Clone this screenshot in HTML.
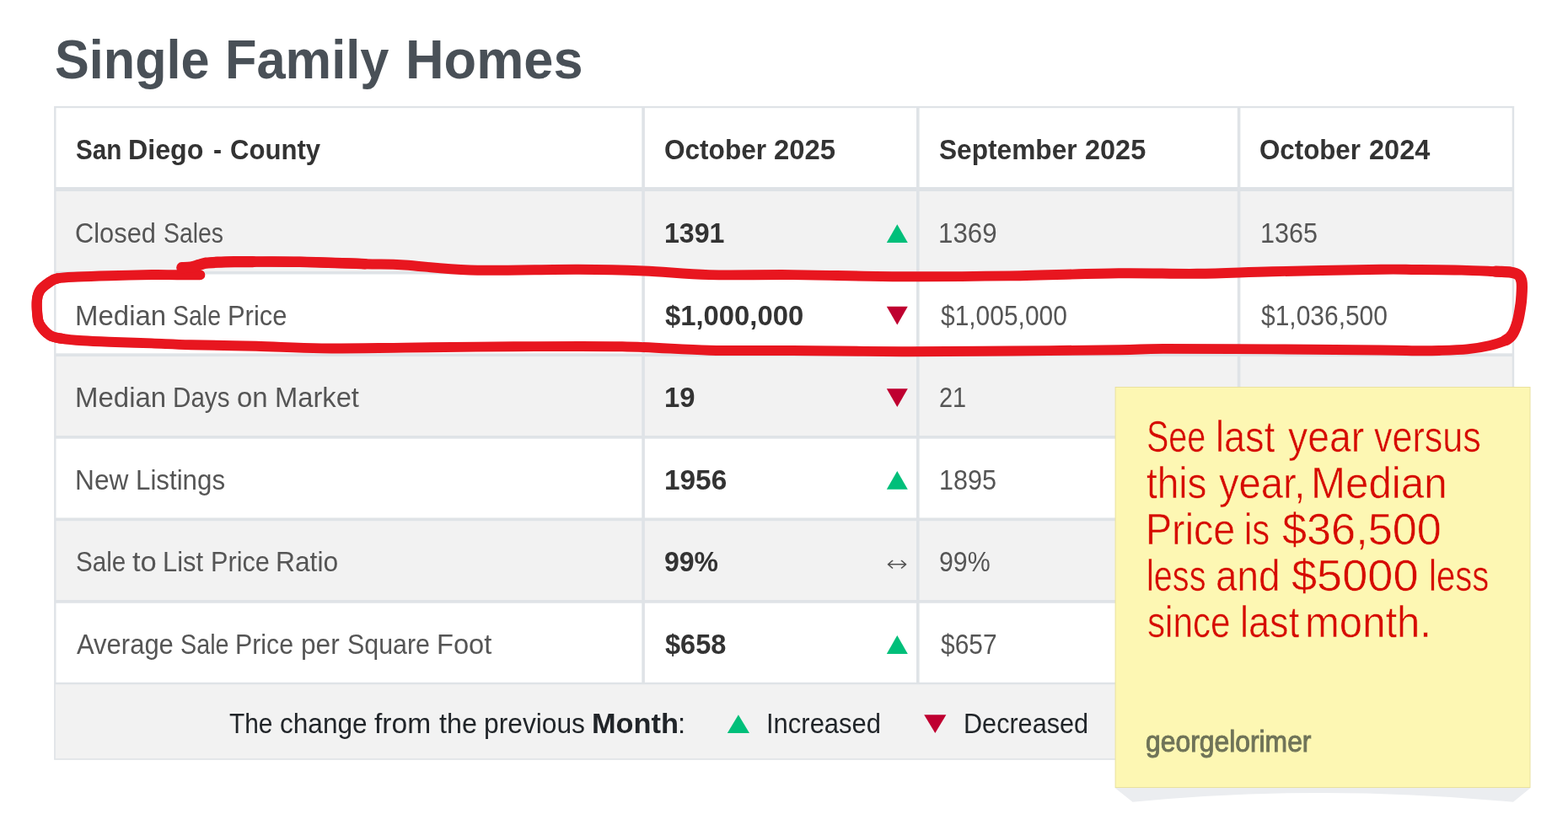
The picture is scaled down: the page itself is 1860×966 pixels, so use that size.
<!DOCTYPE html>
<html lang="en"><head><meta charset="utf-8"><title>Single Family Homes</title>
<style>
html,body{margin:0;padding:0;background:#fff}
body{width:1860px;height:966px;position:relative;overflow:hidden;font-family:"Liberation Sans",sans-serif}
.l{position:absolute;left:0;top:0;margin:0;padding:0}
.t{position:absolute;white-space:pre;transform-origin:0 50%;margin:0;padding:0;display:block}
.b{position:absolute}
svg{position:absolute;left:0;top:0}
</style></head><body>

<svg width="1860" height="966" viewBox="0 0 1860 966">
<rect x="64.1" y="126" width="1732.1" height="775.8" fill="#dfe3e7"/>
<rect x="66.5" y="128.2" width="1727.2" height="93.8" fill="#fff"/>
<rect x="66.5" y="222" width="1727.2" height="5" fill="#dee2e6"/>
<rect x="66.5" y="227.00" width="1727.2" height="95.00" fill="#f2f2f2"/>
<rect x="66.5" y="322.00" width="1727.2" height="3.5" fill="#dfe3e7"/>
<rect x="66.5" y="325.50" width="1727.2" height="94.06" fill="#fff"/>
<rect x="66.5" y="419.56" width="1727.2" height="3.5" fill="#dfe3e7"/>
<rect x="66.5" y="423.06" width="1727.2" height="94.06" fill="#f2f2f2"/>
<rect x="66.5" y="517.12" width="1727.2" height="3.5" fill="#dfe3e7"/>
<rect x="66.5" y="520.62" width="1727.2" height="94.06" fill="#fff"/>
<rect x="66.5" y="614.68" width="1727.2" height="3.5" fill="#dfe3e7"/>
<rect x="66.5" y="618.18" width="1727.2" height="94.06" fill="#f2f2f2"/>
<rect x="66.5" y="712.24" width="1727.2" height="3.5" fill="#dfe3e7"/>
<rect x="66.5" y="715.74" width="1727.2" height="94.06" fill="#fff"/>
<rect x="65.8" y="812.3" width="1728.8" height="87.9" fill="#f2f2f2"/>
<rect x="761.3" y="128" width="3.6" height="682.4" fill="#dfe3e7"/>
<rect x="1087" y="128" width="3.6" height="682.4" fill="#dfe3e7"/>
<rect x="1467.8" y="128" width="3.6" height="682.4" fill="#dfe3e7"/>
<polygon points="1051.8,288.1 1076.8,288.1 1064.3,266.3" fill="#00bf7a"/>
<polygon points="1051.8,363.7 1076.8,363.7 1064.3,385.6" fill="#bf0030"/>
<polygon points="1051.8,461.2 1076.8,461.2 1064.3,483.1" fill="#bf0030"/>
<polygon points="1051.8,580.8 1076.8,580.8 1064.3,559.0" fill="#00bf7a"/>
<polygon points="1051.8,775.9 1076.8,775.9 1064.3,754.1" fill="#00bf7a"/>
<polygon points="862.8,869.9 889,869.9 875.9,848.2" fill="#00bf7a"/>
<polygon points="1096.2,848.2 1122.4,848.2 1109.3,869.9" fill="#bf0030"/>
</svg>
<div class="l"><span class="t" style="left:65.04px;top:30px;font-size:64.5px;line-height:83px;color:#495057;font-weight:bold;transform:scaleX(0.9481)">Single</span> <span class="t" style="left:266.87px;top:30px;font-size:64.5px;line-height:83px;color:#495057;font-weight:bold;transform:scaleX(0.9511)">Family</span> <span class="t" style="left:480.75px;top:30px;font-size:64.5px;line-height:83px;color:#495057;font-weight:bold;transform:scaleX(0.9788)">Homes</span></div>
<div class="l"><span class="t" style="left:89.54px;top:157px;font-size:33px;line-height:42px;color:#333;font-weight:bold;transform:scaleX(0.8988)">San</span> <span class="t" style="left:152.49px;top:157px;font-size:33px;line-height:42px;color:#333;font-weight:bold;transform:scaleX(0.9743)">Diego</span> <span class="t" style="left:252.81px;top:157px;font-size:33px;line-height:42px;color:#333;font-weight:bold;transform:scaleX(0.9127)">-</span> <span class="t" style="left:272.78px;top:157px;font-size:33px;line-height:42px;color:#333;font-weight:bold;transform:scaleX(0.9417)">County</span></div>
<div class="l"><span class="t" style="left:787.81px;top:157px;font-size:33px;line-height:42px;color:#333;font-weight:bold;transform:scaleX(0.9566)">October</span> <span class="t" style="left:918.07px;top:157px;font-size:33px;line-height:42px;color:#333;font-weight:bold;transform:scaleX(0.9964)">2025</span></div>
<div class="l"><span class="t" style="left:1113.81px;top:157px;font-size:33px;line-height:42px;color:#333;font-weight:bold;transform:scaleX(0.9589)">September</span> <span class="t" style="left:1287.19px;top:157px;font-size:33px;line-height:42px;color:#333;font-weight:bold;transform:scaleX(0.9838)">2025</span></div>
<div class="l"><span class="t" style="left:1494.22px;top:157px;font-size:33px;line-height:42px;color:#333;font-weight:bold;transform:scaleX(0.9478)">October</span> <span class="t" style="left:1623.98px;top:157px;font-size:33px;line-height:42px;color:#333;font-weight:bold;transform:scaleX(0.9850)">2024</span></div>
<div class="l"><span class="t" style="left:89.06px;top:256px;font-size:33px;line-height:42px;color:#555;transform:scaleX(0.9338)">Closed</span> <span class="t" style="left:194.11px;top:256px;font-size:33px;line-height:42px;color:#555;transform:scaleX(0.8604)">Sales</span></div>
<div class="l"><span class="t" style="left:788.19px;top:256px;font-size:33px;line-height:42px;color:#333;font-weight:bold;transform:scaleX(0.9727)">1391</span></div>
<div class="l"><span class="t" style="left:1113.34px;top:256px;font-size:33px;line-height:42px;color:#555;transform:scaleX(0.9484)">1369</span></div>
<div class="l"><span class="t" style="left:1495.09px;top:256px;font-size:33px;line-height:42px;color:#555;transform:scaleX(0.9256)">1365</span></div>
<div class="l"><span class="t" style="left:88.67px;top:354px;font-size:33px;line-height:42px;color:#555;transform:scaleX(0.9995)">Median</span> <span class="t" style="left:205.36px;top:354px;font-size:33px;line-height:42px;color:#555;transform:scaleX(0.8637)">Sale</span> <span class="t" style="left:270.09px;top:354px;font-size:33px;line-height:42px;color:#555;transform:scaleX(0.9366)">Price</span></div>
<div class="l"><span class="t" style="left:788.80px;top:354px;font-size:33px;line-height:42px;color:#333;font-weight:bold;transform:scaleX(0.9938)">$1,000,000</span></div>
<div class="l"><span class="t" style="left:1115.50px;top:354px;font-size:33px;line-height:42px;color:#555;transform:scaleX(0.9073)">$1,005,000</span></div>
<div class="l"><span class="t" style="left:1496.10px;top:354px;font-size:33px;line-height:42px;color:#555;transform:scaleX(0.9079)">$1,036,500</span></div>
<div class="l"><span class="t" style="left:88.67px;top:451px;font-size:33px;line-height:42px;color:#555;transform:scaleX(0.9995)">Median</span> <span class="t" style="left:204.69px;top:451px;font-size:33px;line-height:42px;color:#555;transform:scaleX(0.8977)">Days</span> <span class="t" style="left:281.47px;top:451px;font-size:33px;line-height:42px;color:#555;transform:scaleX(0.9979)">on</span> <span class="t" style="left:326.20px;top:451px;font-size:33px;line-height:42px;color:#555;transform:scaleX(0.9910)">Market</span></div>
<div class="l"><span class="t" style="left:788.15px;top:451px;font-size:33px;line-height:42px;color:#333;font-weight:bold;transform:scaleX(0.9934)">19</span></div>
<div class="l"><span class="t" style="left:1113.95px;top:451px;font-size:33px;line-height:42px;color:#555;transform:scaleX(0.8752)">21</span></div>
<div class="l"><span class="t" style="left:88.82px;top:549px;font-size:33px;line-height:42px;color:#555;transform:scaleX(0.9602)">New</span> <span class="t" style="left:161.46px;top:549px;font-size:33px;line-height:42px;color:#555;transform:scaleX(0.9475)">Listings</span></div>
<div class="l"><span class="t" style="left:788.11px;top:549px;font-size:33px;line-height:42px;color:#333;font-weight:bold;transform:scaleX(1.0109)">1956</span></div>
<div class="l"><span class="t" style="left:1114.39px;top:549px;font-size:33px;line-height:42px;color:#555;transform:scaleX(0.9270)">1895</span></div>
<div class="l"><span class="t" style="left:89.68px;top:646px;font-size:33px;line-height:42px;color:#555;transform:scaleX(0.8967)">Sale</span> <span class="t" style="left:157.40px;top:646px;font-size:33px;line-height:42px;color:#555;transform:scaleX(1.0464)">to</span> <span class="t" style="left:193.08px;top:646px;font-size:33px;line-height:42px;color:#555;transform:scaleX(0.9368)">List</span> <span class="t" style="left:249.51px;top:646px;font-size:33px;line-height:42px;color:#555;transform:scaleX(0.9289)">Price</span> <span class="t" style="left:326.52px;top:646px;font-size:33px;line-height:42px;color:#555;transform:scaleX(0.9628)">Ratio</span></div>
<div class="l"><span class="t" style="left:787.80px;top:646px;font-size:33px;line-height:42px;color:#333;font-weight:bold;transform:scaleX(0.9682)">99%</span></div>
<div class="l"><span class="t" style="left:1050.91px;top:651px;font-size:27px;line-height:35px;color:#505050;font-family:'DejaVu Sans',sans-serif;-webkit-text-stroke:0.7px #f2f2f2;transform:scaleX(1.1753)">↔</span></div>
<div class="l"><span class="t" style="left:1113.88px;top:646px;font-size:33px;line-height:42px;color:#555;transform:scaleX(0.9194)">99%</span></div>
<div class="l"><span class="t" style="left:90.60px;top:744px;font-size:33px;line-height:42px;color:#555;transform:scaleX(0.9390)">Average</span> <span class="t" style="left:213.90px;top:744px;font-size:33px;line-height:42px;color:#555;transform:scaleX(0.8715)">Sale</span> <span class="t" style="left:279.23px;top:744px;font-size:33px;line-height:42px;color:#555;transform:scaleX(0.9191)">Price</span> <span class="t" style="left:357.02px;top:744px;font-size:33px;line-height:42px;color:#555;transform:scaleX(0.9588)">per</span> <span class="t" style="left:412.25px;top:744px;font-size:33px;line-height:42px;color:#555;transform:scaleX(0.9208)">Square</span> <span class="t" style="left:517.75px;top:744px;font-size:33px;line-height:42px;color:#555;transform:scaleX(0.9895)">Foot</span></div>
<div class="l"><span class="t" style="left:789.40px;top:744px;font-size:33px;line-height:42px;color:#333;font-weight:bold;transform:scaleX(0.9864)">$658</span></div>
<div class="l"><span class="t" style="left:1115.80px;top:744px;font-size:33px;line-height:42px;color:#555;transform:scaleX(0.9074)">$657</span></div>
<div class="l"><span class="t" style="left:272.03px;top:838px;font-size:33px;line-height:42px;color:#212529;transform:scaleX(0.9053)">The</span> <span class="t" style="left:331.61px;top:838px;font-size:33px;line-height:42px;color:#212529;transform:scaleX(0.9575)">change</span> <span class="t" style="left:444.00px;top:838px;font-size:33px;line-height:42px;color:#212529;transform:scaleX(1.0172)">from</span> <span class="t" style="left:520.70px;top:838px;font-size:33px;line-height:42px;color:#212529;transform:scaleX(0.9790)">the</span> <span class="t" style="left:573.82px;top:838px;font-size:33px;line-height:42px;color:#212529;transform:scaleX(0.9619)">previous</span> <span class="t" style="left:701.55px;top:838px;font-size:33px;line-height:42px;color:#212529;font-weight:bold;transform:scaleX(1.0410)">Month</span><span class="t" style="left:803.83px;top:838px;font-size:33px;line-height:42px;color:#212529;transform:scaleX(0.9974)">:</span></div>
<div class="l"><span class="t" style="left:908.58px;top:838px;font-size:33px;line-height:42px;color:#212529;transform:scaleX(0.9388)">Increased</span></div>
<div class="l"><span class="t" style="left:1142.61px;top:838px;font-size:33px;line-height:42px;color:#212529;transform:scaleX(0.9275)">Decreased</span></div>
<svg width="1860" height="966" viewBox="0 0 1860 966"><g fill="none" stroke="#e8161f" stroke-linecap="round" stroke-linejoin="round"><path d="M215.8 317.6C217.6 317.5 223.1 317.5 226.5 317.0C229.9 316.5 233.0 315.3 236.0 314.5C239.0 313.7 240.8 312.7 244.5 312.1C248.2 311.6 252.4 311.4 258.0 311.2C263.6 310.9 271.0 310.7 278.0 310.6C285.0 310.5 287.1 310.6 300.0 310.6C312.9 310.6 333.3 310.4 355.5 310.8C377.7 311.2 412.2 312.6 433.0 313.2C453.8 313.8 459.3 313.3 480.0 314.5C500.7 315.7 523.0 319.6 557.4 320.5C591.8 321.4 652.1 319.5 686.5 319.7C720.9 319.9 738.1 320.4 763.9 321.5C789.7 322.6 811.9 325.3 841.3 326.1C870.6 326.9 902.0 325.8 940.0 326.1C978.0 326.5 1026.0 328.0 1069.0 328.2C1112.0 328.4 1155.0 328.0 1198.0 327.4C1241.0 326.8 1290.0 324.7 1327.0 324.3C1364.0 323.9 1389.7 325.1 1420.0 324.8C1450.3 324.5 1472.7 323.2 1509.0 322.3C1545.3 321.4 1609.5 320.1 1638.0 319.7C1666.5 319.3 1664.0 319.9 1680.0 320.0C1696.0 320.1 1718.1 320.2 1733.8 320.6C1749.5 321.0 1764.4 321.8 1774.2 322.2C1784.0 322.6 1788.0 322.5 1792.5 323.2C1797.0 323.9 1799.2 324.6 1801.3 326.3C1803.4 328.0 1804.2 330.5 1804.9 333.5C1805.6 336.5 1805.5 339.8 1805.3 344.4C1805.1 349.0 1804.9 354.9 1804.0 361.2C1803.1 367.5 1801.7 376.3 1800.1 382.1C1798.5 387.9 1796.7 392.6 1794.4 396.2C1792.1 399.8 1790.8 401.3 1786.3 403.6C1781.8 405.9 1775.0 408.2 1767.4 410.0C1759.8 411.8 1750.6 413.4 1740.5 414.4C1730.4 415.4 1717.0 415.7 1706.9 416.0C1696.8 416.3 1691.5 416.3 1680.0 416.2C1668.5 416.1 1666.5 415.8 1638.0 415.5C1609.5 415.2 1552.0 414.7 1509.0 414.4C1466.0 414.1 1410.3 413.8 1380.0 413.9C1349.7 414.0 1357.3 414.8 1327.0 415.2C1296.7 415.6 1241.0 416.2 1198.0 416.5C1155.0 416.8 1112.0 417.3 1069.0 417.2C1026.0 417.1 978.0 416.2 940.0 416.0C902.0 415.8 875.0 416.5 841.3 415.7C807.6 414.9 776.7 412.0 738.0 411.3C699.3 410.6 652.0 411.1 609.0 411.3C566.0 411.5 518.0 412.2 480.0 412.6C442.1 413.0 410.7 413.7 381.3 413.4C351.9 413.1 329.7 411.5 303.9 410.8C278.1 410.1 247.2 409.8 226.5 409.2C205.8 408.6 196.2 408.0 180.0 407.4C163.8 406.8 142.9 406.2 129.3 405.7C115.7 405.2 107.6 404.9 98.3 404.3C89.0 403.7 80.0 403.0 73.5 401.9C67.0 400.8 63.6 400.7 59.2 397.9C54.8 395.1 49.6 389.2 47.1 385.1C44.6 381.0 44.8 378.2 44.3 373.3C43.8 368.4 43.4 360.7 43.9 355.9C44.4 351.1 45.1 348.1 47.4 344.7C49.7 341.3 54.4 337.8 57.9 335.4C61.4 333.0 62.8 331.4 68.5 330.3C74.2 329.2 82.0 329.0 92.1 328.5C102.2 328.0 114.7 327.6 129.3 327.2C144.0 326.8 166.6 326.2 180.0 326.0C193.4 325.8 200.4 326.2 210.0 326.2C219.6 326.2 232.8 326.2 237.4 326.2" stroke-width="11.9"/><path d="M215.8 317.6C217.6 317.5 223.1 317.5 226.5 317.0C229.9 316.5 233.0 315.3 236.0 314.5C239.0 313.7 240.8 312.7 244.5 312.1C248.2 311.6 252.4 311.4 258.0 311.2C263.6 310.9 271.0 310.7 278.0 310.6C285.0 310.5 287.1 310.6 300.0 310.6" stroke-width="13.2"/><path d="M300.0 310.6C312.9 310.6 333.3 310.4 355.5 310.8C377.7 311.2 412.2 312.6 433.0 313.2" stroke-width="12.5"/><path d="M1774.2 322.2C1784.0 322.6 1788.0 322.5 1792.5 323.2C1797.0 323.9 1799.2 324.6 1801.3 326.3C1803.4 328.0 1804.2 330.5 1804.9 333.5C1805.6 336.5 1805.5 339.8 1805.3 344.4C1805.1 349.0 1804.9 354.9 1804.0 361.2C1803.1 367.5 1801.7 376.3 1800.1 382.1C1798.5 387.9 1796.7 392.6 1794.4 396.2C1792.1 399.8 1790.8 401.3 1786.3 403.6" stroke-width="13.2"/><path d="M73.5 401.9C67.0 400.8 63.6 400.7 59.2 397.9C54.8 395.1 49.6 389.2 47.1 385.1C44.6 381.0 44.8 378.2 44.3 373.3C43.8 368.4 43.4 360.7 43.9 355.9C44.4 351.1 45.1 348.1 47.4 344.7C49.7 341.3 54.4 337.8 57.9 335.4C61.4 333.0 62.8 331.4 68.5 330.3" stroke-width="12.3"/></g></svg>
<svg width="1860" height="966" viewBox="0 0 1860 966"><path d="M1322.6 935 L1815.5 935 L1795 951.8 Q1568 930 1343.5 951.8 Z" fill="#ebedf0"/><rect x="1322.6" y="459" width="492.9" height="476" fill="#e9e19f"/><rect x="1323.6" y="460" width="490.9" height="474" fill="#fdf7b3"/></svg>
<div class="l"><span class="t" style="left:1360.01px;top:485px;font-size:52px;line-height:67px;color:#d60b00;-webkit-text-stroke:0.55px #fdf7b3;transform:scaleX(0.7602)">See</span> <span class="t" style="left:1442.18px;top:485px;font-size:52px;line-height:67px;color:#d60b00;-webkit-text-stroke:0.55px #fdf7b3;transform:scaleX(0.8671)">last</span> <span class="t" style="left:1527.50px;top:485px;font-size:52px;line-height:67px;color:#d60b00;-webkit-text-stroke:0.55px #fdf7b3;transform:scaleX(0.8920)">year</span> <span class="t" style="left:1630.00px;top:485px;font-size:52px;line-height:67px;color:#d60b00;-webkit-text-stroke:0.55px #fdf7b3;transform:scaleX(0.8282)">versus</span></div>
<div class="l"><span class="t" style="left:1360.00px;top:540px;font-size:52px;line-height:67px;color:#d60b00;-webkit-text-stroke:0.55px #fdf7b3;transform:scaleX(0.8828)">this</span> <span class="t" style="left:1446.25px;top:540px;font-size:52px;line-height:67px;color:#d60b00;-webkit-text-stroke:0.55px #fdf7b3;transform:scaleX(0.9072)">year,</span> <span class="t" style="left:1554.90px;top:540px;font-size:52px;line-height:67px;color:#d60b00;-webkit-text-stroke:0.55px #fdf7b3;transform:scaleX(0.9476)">Median</span></div>
<div class="l"><span class="t" style="left:1359.36px;top:595px;font-size:52px;line-height:67px;color:#d60b00;-webkit-text-stroke:0.55px #fdf7b3;transform:scaleX(0.8971)">Price</span> <span class="t" style="left:1476.14px;top:595px;font-size:52px;line-height:67px;color:#d60b00;-webkit-text-stroke:0.55px #fdf7b3;transform:scaleX(0.8033)">is</span> <span class="t" style="left:1521.25px;top:595px;font-size:52px;line-height:67px;color:#d60b00;-webkit-text-stroke:0.55px #fdf7b3;transform:scaleX(1.0044)">$36,500</span></div>
<div class="l"><span class="t" style="left:1359.52px;top:650px;font-size:52px;line-height:67px;color:#d60b00;-webkit-text-stroke:0.55px #fdf7b3;transform:scaleX(0.7620)">less</span> <span class="t" style="left:1442.32px;top:650px;font-size:52px;line-height:67px;color:#d60b00;-webkit-text-stroke:0.55px #fdf7b3;transform:scaleX(0.8818)">and</span> <span class="t" style="left:1532.00px;top:650px;font-size:52px;line-height:67px;color:#d60b00;-webkit-text-stroke:0.55px #fdf7b3;transform:scaleX(1.0415)">$5000</span> <span class="t" style="left:1695.00px;top:650px;font-size:52px;line-height:67px;color:#d60b00;-webkit-text-stroke:0.55px #fdf7b3;transform:scaleX(0.7706)">less</span></div>
<div class="l"><span class="t" style="left:1360.59px;top:705px;font-size:52px;line-height:67px;color:#d60b00;-webkit-text-stroke:0.55px #fdf7b3;transform:scaleX(0.8124)">since</span> <span class="t" style="left:1470.93px;top:705px;font-size:52px;line-height:67px;color:#d60b00;-webkit-text-stroke:0.55px #fdf7b3;transform:scaleX(0.8671)">last</span> <span class="t" style="left:1548.18px;top:705px;font-size:52px;line-height:67px;color:#d60b00;-webkit-text-stroke:0.55px #fdf7b3;transform:scaleX(0.9436)">month.</span></div>
<div class="l"><span class="t" style="left:1359.30px;top:857px;font-size:35px;line-height:45px;color:#6f7358;-webkit-text-stroke:1px #6f7358;transform:scaleX(0.9098)">georgelorimer</span></div>
</body></html>
